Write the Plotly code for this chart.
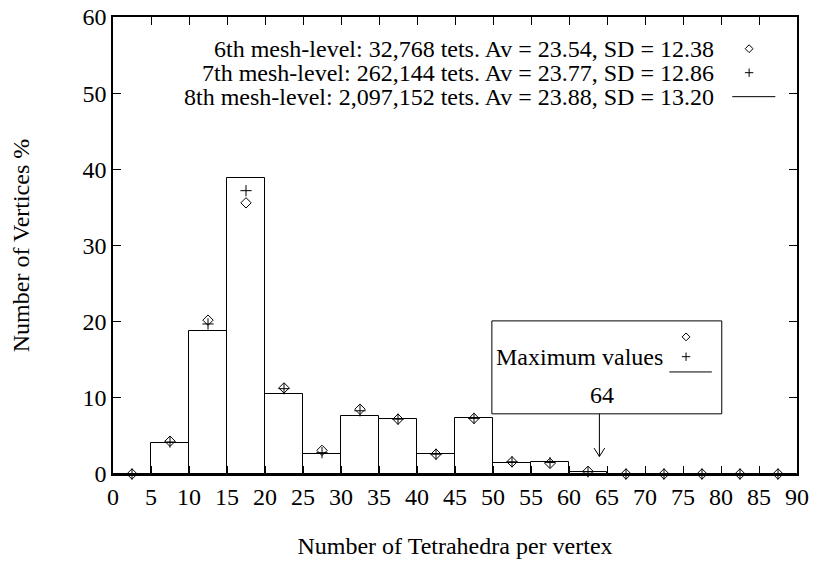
import plotly.graph_objects as go

# bin centers (tetrahedra per vertex), bin width 5
bin_centers = [2.5, 7.5, 12.5, 17.5, 22.5, 27.5, 32.5, 37.5, 42.5, 47.5, 52.5, 57.5,
               62.5, 67.5, 72.5, 77.5, 82.5, 87.5]
# 8th mesh-level (bars)
lvl8 = [0.0, 4.1, 18.8, 38.8, 10.5, 2.6, 7.6, 7.2, 2.6, 7.4, 1.5, 1.6, 0.3, 0, 0, 0, 0, 0]
# 6th mesh-level (diamonds)
lvl6 = [0.0, 4.3, 20.2, 35.6, 11.3, 3.1, 8.5, 7.2, 2.6, 7.3, 1.6, 1.4, 0.35, 0, 0, 0, 0, 0]
# 7th mesh-level (plus)
lvl7 = [0.0, 4.2, 19.7, 37.2, 11.2, 2.8, 8.3, 7.2, 2.6, 7.3, 1.6, 1.5, 0.3, 0, 0, 0, 0, 0]

legend_labels = [
    "6th mesh-level: 32,768 tets. Av = 23.54, SD = 12.38",
    "7th mesh-level: 262,144 tets. Av = 23.77, SD = 12.86",
    "8th mesh-level: 2,097,152 tets. Av = 23.88, SD = 13.20",
]
x_ticks = list(range(0, 91, 5))
y_ticks = list(range(0, 61, 10))
max_value = 64

FONT = "Liberation Serif, Times New Roman, serif"
FS = 24

fig = go.Figure()
fig.add_trace(go.Bar(x=bin_centers, y=lvl8, width=5,
                     marker=dict(color="white", line=dict(color="black", width=1)),
                     showlegend=False))
fig.add_trace(go.Scatter(x=bin_centers, y=lvl6, mode="markers", cliponaxis=False,
                         marker=dict(symbol="diamond-open", size=8, color="black",
                                     line=dict(width=1, color="black")),
                         showlegend=False))
fig.add_trace(go.Scatter(x=bin_centers, y=lvl7, mode="markers", cliponaxis=False,
                         marker=dict(symbol="cross-thin-open", size=8, color="black",
                                     line=dict(width=1, color="black")),
                         showlegend=False))

# legend (text on the left, sample on the right, gnuplot style)
leg_y = [55.84, 52.69, 49.54]
leg_text_x = 79.3
leg_sym_x = 83.7
for lab, yy in zip(legend_labels, leg_y):
    fig.add_annotation(x=leg_text_x, y=yy, text=lab, showarrow=False,
                       xanchor="right", yanchor="middle", height=24, valign="middle",
                       font=dict(family=FONT, size=FS, color="black"))
fig.add_trace(go.Scatter(x=[leg_sym_x], y=[leg_y[0]], mode="markers", showlegend=False,
                         marker=dict(symbol="diamond-open", size=6, color="black",
                                     line=dict(width=1, color="black"))))
fig.add_trace(go.Scatter(x=[leg_sym_x], y=[leg_y[1]], mode="markers", showlegend=False,
                         marker=dict(symbol="cross-thin-open", size=6, color="black",
                                     line=dict(width=1, color="black"))))
fig.add_shape(type="line", x0=81.48, x1=87.15, y0=leg_y[2], y1=leg_y[2],
              line=dict(color="black", width=1))

# "Maximum values" box
fig.add_shape(type="rect", x0=49.85, x1=80.1, y0=7.9, y1=20.1,
              line=dict(color="black", width=1), fillcolor="rgba(0,0,0,0)", layer="above")
fig.add_annotation(x=72.6, y=15.4, text="Maximum values", showarrow=False,
                   xanchor="right", yanchor="middle",
                   font=dict(family=FONT, size=FS, color="black"))
fig.add_trace(go.Scatter(x=[75.4], y=[18.0], mode="markers", showlegend=False,
                         marker=dict(symbol="diamond-open", size=6, color="black",
                                     line=dict(width=1, color="black"))))
fig.add_trace(go.Scatter(x=[75.4], y=[15.4], mode="markers", showlegend=False,
                         marker=dict(symbol="cross-thin-open", size=6, color="black",
                                     line=dict(width=1, color="black"))))
fig.add_shape(type="line", x0=73.2, x1=78.8, y0=13.4, y1=13.4,
              line=dict(color="black", width=1), layer="above")
fig.add_annotation(x=64.4, y=10.4, text=str(max_value), showarrow=False,
                   xanchor="center", yanchor="middle",
                   font=dict(family=FONT, size=FS, color="black"))
# arrow to 64
fig.add_shape(type="line", x0=max_value, x1=max_value, y0=7.9, y1=2.3,
              line=dict(color="black", width=1), layer="above")
fig.add_shape(type="line", x0=max_value - 0.7, x1=max_value, y0=3.4, y1=2.3,
              line=dict(color="black", width=1), layer="above")
fig.add_shape(type="line", x0=max_value + 0.7, x1=max_value, y0=3.4, y1=2.3,
              line=dict(color="black", width=1), layer="above")

axis_common = dict(showline=True, linecolor="black", linewidth=1.5, mirror="ticks",
                   ticks="inside", ticklen=8, tickwidth=1, tickcolor="black",
                   showgrid=False, zeroline=False, automargin=False,
                   tickfont=dict(family=FONT, size=FS, color="black"))
fig.update_xaxes(range=[0, 90], tickvals=x_ticks,
                 title=dict(text="Number of Tetrahedra per vertex",
                            font=dict(family=FONT, size=FS, color="black"), standoff=29),
                 **axis_common)
fig.update_yaxes(range=[0, 60], tickvals=y_ticks,
                 title=dict(text="Number of Vertices %",
                            font=dict(family=FONT, size=FS, color="black"), standoff=46),
                 **axis_common)
fig.update_layout(width=813, height=563, margin=dict(l=113, r=16, t=17, b=89),
                  plot_bgcolor="white", paper_bgcolor="white", bargap=0,
                  font=dict(family=FONT, size=FS, color="black"), showlegend=False)
# remove the default 8px page margin so the figure fills the window exactly
fig.write_html("out.html", config={"displayModeBar": False},
               post_script="document.body.style.margin='0px';document.body.style.overflow='hidden';")
